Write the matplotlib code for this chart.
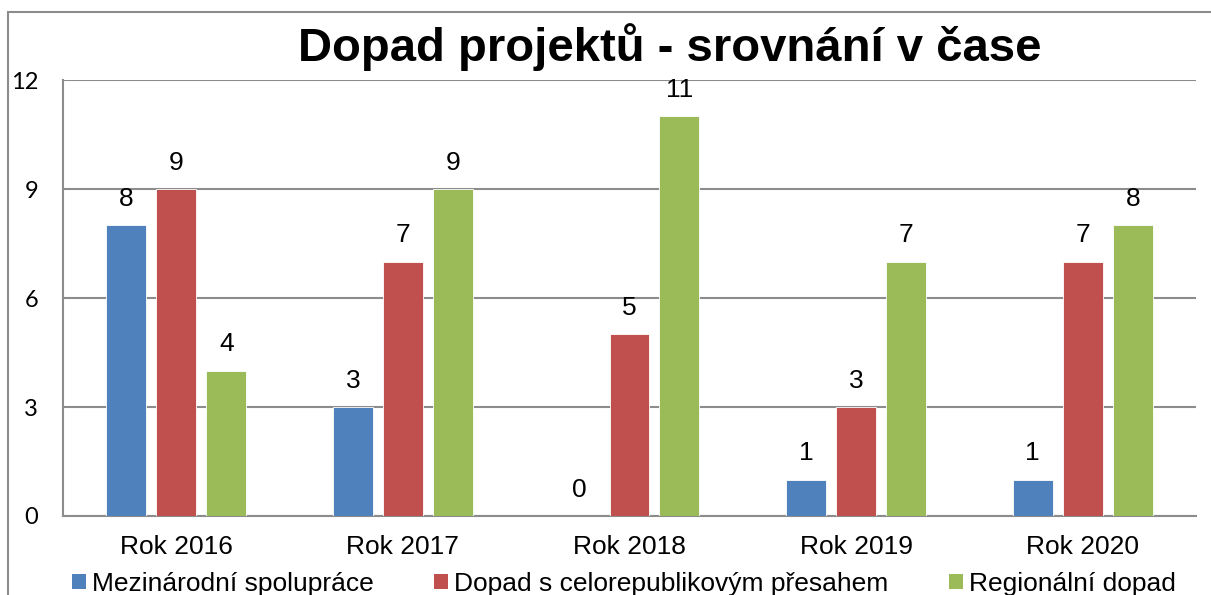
import matplotlib.pyplot as plt
from matplotlib.patches import Patch, Rectangle
import numpy as np

categories = ["Rok 2016", "Rok 2017", "Rok 2018", "Rok 2019", "Rok 2020"]
series_names = ["Mezinárodní spolupráce", "Dopad s celorepublikovým přesahem", "Regionální dopad"]
mezinarodni = [8, 3, 0, 1, 1]
celorepublikovy = [9, 7, 5, 3, 7]
regionalni = [4, 9, 11, 7, 8]
colors = ["#4F81BD", "#C0504D", "#9BBB59"]
yticks = [0, 3, 6, 9, 12]

W, H = 1211, 595
fig = plt.figure(figsize=(W / 100, H / 100), dpi=100)

# outer chart frame (cut off at right and bottom)
fig.patches.append(Rectangle((8 / W, -0.1), 1.2, 1 - 12 / H + 0.1, transform=fig.transFigure,
                             fill=False, edgecolor="#8c8c8c", linewidth=1.5))

ax = fig.add_axes([63 / W, 1 - 516 / H, (1196 - 63) / W, (516 - 80) / H])

x = np.arange(len(categories))
width = 0.1765
offset = 0.2206
for i, (vals, col) in enumerate(zip([mezinarodni, celorepublikovy, regionalni], colors)):
    pos = x + (i - 1) * offset
    bars = ax.bar(pos, vals, width, color=col, edgecolor="white", linewidth=0.6, zorder=3)
    for b, v in zip(bars, vals):
        ax.annotate(str(v), (b.get_x() + b.get_width() / 2, v), xytext=(0, 19),
                    textcoords="offset points", ha="center", va="center",
                    fontsize=19, family="Liberation Sans")

ax.set_xlim(-0.5, len(categories) - 0.5)
ax.set_ylim(0, 12)
ax.set_yticks(yticks)
ax.set_yticklabels([str(t) for t in yticks], fontsize=17, family="Lato")
ax.set_xticks(x)
ax.set_xticklabels(categories, fontsize=19, family="Liberation Sans")
ax.tick_params(axis="y", length=0, pad=18)
ax.tick_params(axis="x", length=0, pad=14)
ax.grid(axis="y", color="#8c8c8c", linewidth=1.5, zorder=0)
for s in ["top", "right"]:
    ax.spines[s].set_visible(False)
for s in ["left", "bottom"]:
    ax.spines[s].set_color("#8c8c8c")
    ax.spines[s].set_linewidth(1.5)

fig.text(670 / W, 1 - 61 / H, "Dopad projektů - srovnání v čase", ha="center", va="baseline",
         fontsize=34, fontweight="bold", family="Liberation Sans")

handles = [Patch(facecolor=c, edgecolor="none") for c in colors]
fig.legend(handles, series_names, loc="center", bbox_to_anchor=(624 / W, 1 - 584 / H), ncol=3,
           frameon=False, prop={"family": "Liberation Sans", "size": 19},
           handlelength=0.53, handleheight=0.53, handletextpad=0.23, columnspacing=2.3,
           borderpad=0)

fig.savefig("out.png", dpi=100)
